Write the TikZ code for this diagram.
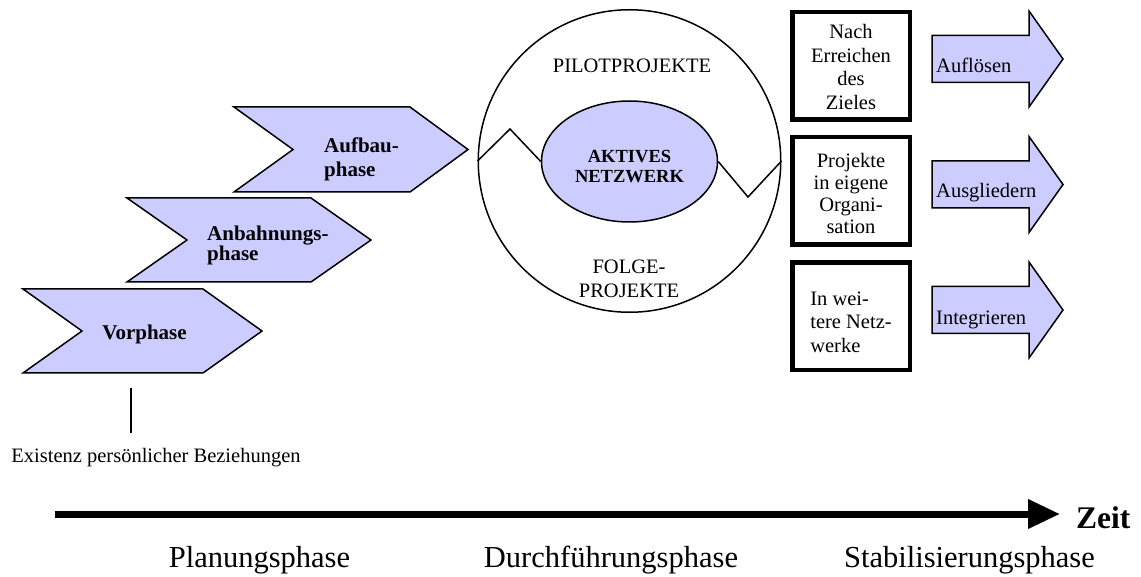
\documentclass[tikz,border=0pt]{standalone}
\usepackage{fontspec}
\setmainfont{Liberation Serif}
\usetikzlibrary{arrows.meta,shapes.geometric}
\definecolor{lav}{RGB}{204,204,255}
\tikzset{
  chev/.style={draw=black, fill=lav, line width=1.5pt, line join=miter},
  chevtxt/.style={font=\fontsize{21}{24}\selectfont\bfseries, align=left, inner sep=0pt, anchor=west},
  bigbox/.style={draw=black, line width=4.5pt, minimum width=117.5pt, minimum height=107.5pt,
    inner sep=0pt, font=\fontsize{20.5}{23}\selectfont},
  boxtxt/.style={font=\fontsize{20.5}{23.5}\selectfont, inner sep=0pt},
  fatarrow/.style={draw=black, fill=lav, line width=1.5pt, line join=miter},
  arrtxt/.style={font=\fontsize{20.5}{24}\selectfont, inner sep=0pt, anchor=base west},
  plain/.style={font=\fontsize{20.5}{24.4}\selectfont, inner sep=0pt, align=center},
  phase/.style={font=\fontsize{30.5}{36}\selectfont, inner sep=0pt, anchor=base},
  thinline/.style={line width=1.5pt},
  pics/fatarr/.style={code={
    \draw[fatarrow] (0,-23.5) -- (97,-23.5) -- (97,-48) -- (131,0) -- (97,48)
      -- (97,23.5) -- (0,23.5) -- cycle;}}
}
\begin{document}
\begin{tikzpicture}[x=1pt,y=-1pt]
\useasboundingbox (0,0) rectangle (1141,577);

% chevrons
\draw[chev] (234,107) -- (410,107) -- (468,149.5) -- (410,192) -- (234,192) -- (293,149.5) -- cycle;
\draw[chev] (127,198) -- (311,198) -- (371,240) -- (311,282) -- (127,282) -- (187,240) -- cycle;
\draw[chev] (23,289) -- (203,289) -- (262,331) -- (203,373) -- (23,373) -- (82,331) -- cycle;
\node[chevtxt] (aufbau) at (324,159) {Aufbau-\\phase};
\node[chevtxt, font=\fontsize{21}{19.5}\selectfont\bfseries] (anb) at (207,245.6) {Anbahnungs-\\phase};
\node[chevtxt, anchor=base] (vor) at (144.5,340) {Vorphase};

% circle with active network
\node[draw, circle, line width=1.5pt, minimum size=302.5pt, inner sep=0pt] (circ) at (629.5,161) {};
\node[draw, fill=lav, ellipse, line width=1.5pt, minimum width=176pt, minimum height=121pt,
  inner sep=0pt] (net) at (629.5,161.5) {};
\node[align=center, inner sep=0pt, font=\fontsize{18.5}{20}\selectfont\bfseries] (nettxt) at (629.5,166.5) {AKTIVES\\NETZWERK};
\node[plain, anchor=base] (pilot) at (632,72.7) {PILOTPROJEKTE};
\node[plain] (folge) at (629,278.7) {FOLGE-\\PROJEKTE};
\coordinate (zl) at (510,129);
\coordinate (zr) at (748,197);
\draw[thinline] (circ.west) -- (zl) -- (net.west);
\draw[thinline] (net.east) -- (zr) -- (circ.east);

% boxes
\node[bigbox] (b1) at (851,66) {};
\node[bigbox] (b2) at (851,191) {};
\node[bigbox] (b3) at (851,316.5) {};
\node[boxtxt, align=center] (b1txt) at (851,67) {Nach\\Erreichen\\des\\Zieles};
\node[boxtxt, align=center, font=\fontsize{20.5}{22}\selectfont] (b2txt) at (851,193) {Projekte\\in eigene\\Organi-\\sation};
\node[boxtxt, align=left] (b3txt) at (851,322) {In wei-\\tere Netz-\\werke};

% fat arrows
\pic at (932,59) {fatarr};
\pic at (932,184.5) {fatarr};
\pic at (932,310) {fatarr};
\node[arrtxt] (aufl) at (936,73) {Auflösen};
\node[arrtxt] (ausg) at (936,198) {Ausgliedern};
\node[arrtxt] (integ) at (936,325) {Integrieren};

% timeline
\coordinate (v0) at (131,388);
\coordinate (v1) at (131,433);
\draw[thinline] (v0) -- (v1);
\node[plain, anchor=base] (exist) at (156,462) {Existenz persönlicher Beziehungen};
\coordinate (t0) at (55,514);
\coordinate (t1) at (1060,514);
\draw[line width=7pt, -{Triangle[length=32pt 0 0,width=28pt 0 0]}] (t0) -- (t1);
\node[font=\fontsize{31.5}{36}\selectfont\bfseries, anchor=base west, inner sep=0pt] (zeit) at (1076,528) {Zeit};
\node[phase] (plan) at (259.5,567) {Planungsphase};
\node[phase] (durch) at (611,567) {Durchführungsphase};
\node[phase] (stab) at (969.5,567) {Stabilisierungsphase};
\end{tikzpicture}
\end{document}
